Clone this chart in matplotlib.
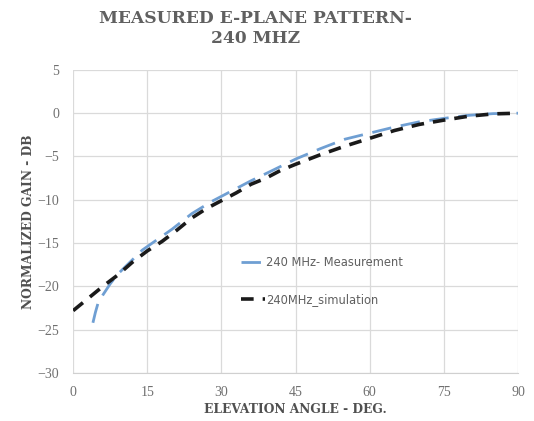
import matplotlib
matplotlib.use("Agg")
import matplotlib.pyplot as plt

# Data
meas_angle = [4, 4.5, 5, 6, 7.5, 9, 11.5, 14, 16.5, 20, 24, 28, 32, 36, 40, 45, 50, 55, 60, 65, 70, 75, 80, 85, 90]
meas_gain = [-24.2, -23.0, -22.0, -21.0, -19.7, -18.6, -17.2, -15.8, -14.8, -13.4, -11.6, -10.2, -9.0, -7.8,
             -6.7, -5.3, -4.1, -3.0, -2.3, -1.6, -1.0, -0.6, -0.25, -0.05, 0.0]
sim_angle = [0, 3, 6, 9, 12, 15, 18, 21, 24, 27, 30, 33, 36, 39, 42, 45, 50, 55, 60, 65, 70, 75, 80, 85, 90]
sim_gain = [-22.8, -21.4, -20.0, -18.7, -17.2, -15.9, -14.8, -13.5, -12.1, -11.0, -10.1, -9.2, -8.2, -7.5,
            -6.6, -5.9, -4.8, -3.8, -2.9, -2.0, -1.3, -0.8, -0.35, -0.08, 0.0]
x_ticks = [0, 15, 30, 45, 60, 75, 90]
y_ticks = [5, 0, -5, -10, -15, -20, -25, -30]
labels = ["240 MHz- Measurement", "240MHz_simulation"]

fig = plt.figure(figsize=(5.34, 4.21), dpi=100)
ax = fig.add_axes([0.137, 0.114, 0.833, 0.72])

ax.plot(meas_angle, meas_gain, color="#6f9fd3", lw=2.0, dashes=(7, 3.5), label=labels[0])
ax.plot(sim_angle, sim_gain, color="#1a1a1a", lw=2.6, dashes=(3.5, 2.5), label=labels[1])

ax.set_xlim(0, 90)
ax.set_ylim(-30, 5)
ax.set_xticks(x_ticks)
ax.set_yticks(y_ticks)
ax.grid(True, color="#dadada", lw=0.9)
ax.set_axisbelow(True)
for s in ["top", "right", "left"]:
    ax.spines[s].set_visible(False)
ax.spines["bottom"].set_color("#d0d0d0")
ax.tick_params(axis="y", length=0, labelsize=10, labelcolor="#707070", pad=10)
ax.tick_params(axis="x", length=0, labelsize=10, labelcolor="#707070", pad=9)
for lab in ax.get_xticklabels() + ax.get_yticklabels():
    lab.set_fontfamily("Liberation Serif")

ax.set_xlabel("ELEVATION ANGLE - DEG.", fontfamily="DejaVu Serif", fontweight="bold",
              fontsize=8.8, color="#505050")
ax.set_ylabel("NORMALIZED GAIN - DB", fontfamily="DejaVu Serif", fontweight="bold",
              fontsize=8.8, color="#505050")
ax.xaxis.set_label_coords(0.5, -0.1)
ax.yaxis.set_label_coords(-0.085, 0.5)

fig.text(0.478, 0.932, "MEASURED E-PLANE PATTERN-\n240 MHZ", ha="center", va="center",
         fontfamily="DejaVu Serif", fontweight="bold", fontsize=12.3, color="#606060",
         linespacing=1.2)

leg = ax.legend(loc="upper left", bbox_to_anchor=(0.355, 0.42), frameon=False,
                fontsize=8.3, labelspacing=2.1, handlelength=2.0, handletextpad=0.1)
for t in leg.get_texts():
    t.set_color("#606060")

fig.savefig("out.png", dpi=100)
